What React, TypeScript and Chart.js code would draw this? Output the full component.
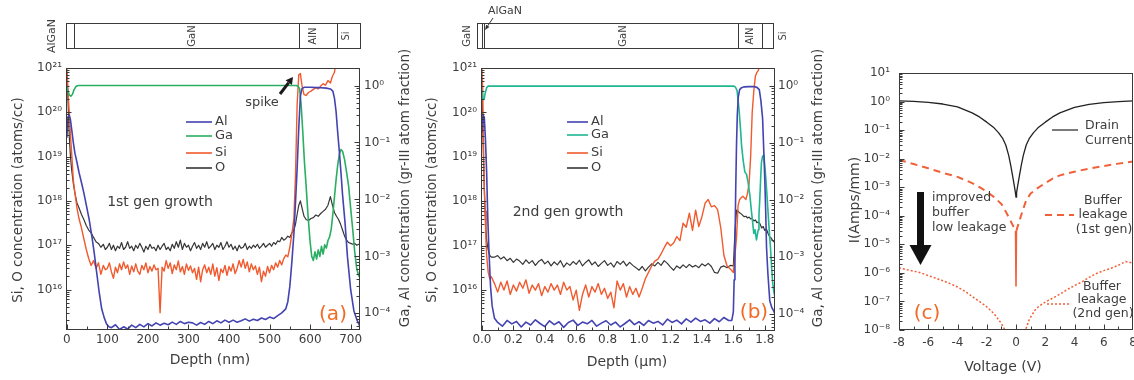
import React, { useEffect, useRef } from 'react';
import { Chart, registerables } from 'chart.js';

Chart.register(...registerables);

const FONT = '"DejaVu Sans", "Noto Sans", sans-serif';
const TXT = '#3d3d3d';
const FRAME = '#3a3a3a';
const C_AL = '#4343b2';
const C_GA_A = '#2aae62';
const C_GA_B = '#20b690';
const C_SI = '#f15a2e';
const C_O = '#363636';
const C_LABEL = '#f26a25';
const C_LEAK = '#f2603a';

// ---------------- Panel (a): 1st gen growth, depth (nm)
const aDepth = [
  0, 2, 4, 6, 9, 12, 16, 20, 25, 30, 36, 42, 48, 54, 60, 66, 72, 78, 84, 90, 95,
  100, 105, 110, 115, 120, 125, 130, 135, 140, 145,
  150, 155, 160, 165, 170, 175, 180, 185, 190, 195,
  200, 205, 210, 215, 220, 225, 230, 235, 240, 245,
  250, 255, 260, 265, 270, 275, 280, 285, 290, 295,
  300, 305, 310, 315, 320, 325, 330, 335, 340, 345,
  350, 355, 360, 365, 370, 375, 380, 385, 390, 395,
  400, 405, 410, 415, 420, 425, 430, 435, 440, 445,
  450, 455, 460, 465, 470, 475, 480, 485, 490, 495,
  500, 505, 510, 515, 520, 525, 530, 535,
  540, 545, 550, 555, 560, 564, 568, 572, 576, 580,
  585, 590, 596, 602, 608, 614, 620, 626, 632, 638,
  644, 650, 655, 660, 665, 670, 675, 680, 685, 690,
  695, 700, 705, 710, 715, 720, 725,
];
const aO = [
  8e20, 3e20, 1e20, 3e19, 1e19, 5e18, 2.5e18, 1.5e18, 9e17, 7e17, 5e17, 3.8e17, 2.8e17, 2.2e17, 1.9e17, 1.5e17, 1.2e17, 1.1e17, 9e16, 1.05e17, 8e16,
  9e16, 1.1e17, 8e16, 1e17, 7.5e16, 9.5e16, 8.5e16, 1.15e17, 8e16, 9e16,
  1.2e17, 8.5e16, 9.5e16, 7.5e16, 1e17, 8.5e16, 1.1e17, 9e16, 7e16, 9.5e16,
  8e16, 1.05e17, 8.5e16, 9e16, 7.5e16, 1e17, 8e16, 9.5e16, 1.1e17, 8e16,
  9e16, 7.5e16, 1.05e17, 8.5e16, 1.2e17, 9e16, 1.3e17, 8e16, 1.1e17, 9e16,
  1e17, 7.5e16, 9.5e16, 1.15e17, 8.5e16, 1e17, 8e16, 1.1e17, 9e16, 1.2e17,
  8.5e16, 9.5e16, 1.1e17, 8e16, 1e17, 9e16, 1.15e17, 8e16, 9.5e16, 1.2e17,
  9e16, 1.05e17, 8e16, 9.5e16, 7.5e16, 1e17, 8.5e16, 9e16, 1.1e17, 8e16,
  9.5e16, 8.5e16, 1e17, 9e16, 1.05e17, 8.5e16, 9.5e16, 1.1e17, 9e16, 1e17,
  1.1e17, 9.5e16, 1.15e17, 1.05e17, 1.25e17, 1.2e17, 1.5e17, 1.3e17,
  1.4e17, 1.6e17, 1.5e17, 1.9e17, 2.2e17, 3e17, 5e17, 8e17, 1e18, 7e17,
  4.5e17, 3.8e17, 3.6e17, 4e17, 4.2e17, 4.8e17, 4.5e17, 5.2e17, 5.8e17, 6.5e17,
  8e17, 1.25e18, 8e17, 5.5e17, 4.5e17, 3.8e17, 3e17, 2.2e17, 1.6e17, 1.3e17,
  1.15e17, 1.1e17, 1.05e17, 1.1e17, 1e17, 1.05e17, 1e17,
];
const aSi = [
  1e21, 5e20, 2e20, 1e20, 3e19, 1.2e19, 3e18, 1.5e18, 7e17, 4e17, 2.5e17, 1.4e17, 8e16, 5e16, 3.5e16, 4.5e16, 3e16, 4e16, 2.2e16, 3.5e16, 2.8e16,
  3e16, 4e16, 2.5e16, 1.8e16, 3.2e16, 2.4e16, 3.8e16, 2.8e16, 4.2e16, 3e16,
  3.6e16, 2.2e16, 3.4e16, 2.5e16, 3.8e16, 2.6e16, 2.2e16, 3.5e16, 2.8e16, 4e16,
  2.4e16, 3.3e16, 2.6e16, 3.6e16, 2.8e16, 3e16, 3e15, 3.2e16, 2.6e16, 4.5e16,
  3e16, 4e16, 2.3e16, 3.6e16, 2.8e16, 4.4e16, 2.5e16, 3.3e16, 2.2e16, 3.8e16,
  2.7e16, 3.4e16, 2.4e16, 3e16, 1.7e16, 3.2e16, 1.5e16, 2.8e16, 3.6e16, 2.4e16,
  3.2e16, 2.2e16, 3.8e16, 2e16, 3.1e16, 1.6e16, 2.9e16, 2.4e16, 3.5e16, 2.1e16,
  3.3e16, 2.6e16, 3.8e16, 2.3e16, 3e16, 4.5e16, 3.2e16, 4.8e16, 3e16, 4.2e16,
  2.5e16, 3.8e16, 2.8e16, 3.4e16, 2.2e16, 3.2e16, 1.5e16, 2.6e16, 2e16, 3.3e16,
  2.4e16, 3.5e16, 2.8e16, 4e16, 3.2e16, 4.5e16, 3.6e16, 5e16,
  6e16, 5.5e16, 9e16, 1.8e17, 4e17, 4e18, 1.5e20, 7e20, 7.5e20, 4e20,
  2.5e20, 2.4e20, 2.8e20, 3e20, 3.3e20, 3.6e20, 3.4e20, 3.9e20, 4.4e20, 4.1e20,
  5.2e20, 4.6e20, 6.5e20, 8e20, 1.6e21, 3e21, 3e21, 3e21, 3e21, 3e21,
  3e21, 3e21, 3e21, 3e21, 3e21, 3e21, 3e21,
];
const aAlDepth = [
  0, 3, 6, 9, 12, 16, 20, 25, 30, 36, 42, 48, 55, 62, 68, 74, 80, 86, 92, 98, 104,
  110, 120, 130, 140, 150, 160, 170, 180, 190, 200,
  210, 220, 230, 240, 250, 260, 270, 280, 290, 300,
  310, 320, 330, 340, 350, 360, 370, 380, 390, 400,
  410, 420, 430, 440, 450, 460, 470, 480, 490, 500,
  510, 520, 530,
  540, 545, 550, 555, 560, 564, 568, 572, 576, 580,
  585, 600, 620, 640, 650, 656, 660, 664, 668, 672,
  676, 680, 686, 692, 700, 708, 716, 725,
];
const aAl = [
  0.12, 0.28, 0.3, 0.25, 0.17, 0.1, 0.065, 0.045, 0.03, 0.02, 0.013, 8e-3, 4.5e-3, 2.2e-3, 1.1e-3, 5e-4, 2.3e-4, 1.2e-4, 8.5e-5, 6.5e-5, 5.8e-5,
  5.6e-5, 6.3e-5, 5.2e-5, 5.8e-5, 5.3e-5, 6.2e-5, 5.6e-5, 6.4e-5, 5.8e-5, 6.6e-5,
  6e-5, 6.8e-5, 6.2e-5, 6.7e-5, 6.3e-5, 7e-5, 6.4e-5, 7.2e-5, 6.6e-5, 7e-5,
  6.8e-5, 6.2e-5, 6.9e-5, 6.4e-5, 7.2e-5, 6.6e-5, 7.4e-5, 6.8e-5, 7.6e-5, 7e-5,
  7.6e-5, 7e-5, 7.4e-5, 8e-5, 7.3e-5, 7.9e-5, 7.5e-5, 8.3e-5, 7.8e-5, 8.6e-5,
  8.1e-5, 9.1e-5, 1.02e-4,
  1.2e-4, 1.6e-4, 3e-4, 8e-4, 2.5e-3, 9e-3, 0.035, 0.18, 0.65, 0.88,
  0.93, 0.93, 0.92, 0.9, 0.87, 0.8, 0.6, 0.35, 0.15, 0.07,
  0.03, 0.012, 4e-3, 1e-3, 2.6e-4, 1.1e-4, 7.5e-5, 5.5e-5,
];
const aGaDepth = [
  0, 3, 6, 10, 14, 18, 22, 26, 30, 40,
  560, 566, 570, 574, 578, 582, 586, 590, 595, 600,
  604, 608, 612, 616, 620, 624, 628, 632, 636, 640,
  644, 648, 652, 656, 660, 664, 668, 672, 676, 680,
  685, 690, 695, 700, 705, 710, 715, 720, 725,
];
const aGa = [
  0.95, 0.8, 0.68, 0.65, 0.7, 0.85, 0.95, 0.99, 1.0, 1.0,
  1.0, 1.0, 0.97, 0.88, 0.45, 0.15, 0.045, 0.018, 5e-3, 1.8e-3,
  1e-3, 8.5e-4, 1.2e-3, 9e-4, 1.3e-3, 1e-3, 1.5e-3, 1.1e-3, 1.6e-3, 1.4e-3,
  1.9e-3, 2.2e-3, 3e-3, 5.5e-3, 0.011, 0.022, 0.04, 0.062, 0.075, 0.07,
  0.05, 0.03, 0.017, 7e-3, 3e-3, 1.2e-3, 6e-4, 4.5e-4, 6e-4,
];
const aXTicks = [0, 100, 200, 300, 400, 500, 600, 700];
const aLayers = [17, 572, 666];

// ---------------- Panel (b): 2nd gen growth, depth (um)
const bDepth = [
  0, 0.005, 0.01, 0.015, 0.02, 0.025, 0.03, 0.04, 0.05, 0.06,
  0.08, 0.10, 0.12, 0.14, 0.16, 0.18, 0.20, 0.22, 0.24, 0.26,
  0.28, 0.30, 0.32, 0.34, 0.36, 0.38, 0.40, 0.42, 0.44, 0.46,
  0.48, 0.50, 0.52, 0.54, 0.56, 0.58, 0.60, 0.62, 0.64, 0.66,
  0.68, 0.70, 0.72, 0.74, 0.76, 0.78, 0.80, 0.82, 0.84, 0.86,
  0.88, 0.90, 0.92, 0.94, 0.96, 0.98, 1.00, 1.02, 1.04, 1.06,
  1.08, 1.10, 1.12, 1.14, 1.16, 1.18, 1.20, 1.22, 1.24, 1.26,
  1.28, 1.30, 1.32, 1.34, 1.36, 1.38, 1.40, 1.42, 1.44, 1.46,
  1.48, 1.50, 1.52, 1.54, 1.56, 1.58,
  1.60, 1.61, 1.62, 1.63, 1.64, 1.65, 1.66, 1.67, 1.68, 1.69,
  1.70, 1.71, 1.72, 1.73, 1.74, 1.75, 1.76, 1.77, 1.78, 1.79,
  1.80, 1.81, 1.82, 1.83, 1.84, 1.85, 1.86,
];
const bO = [
  6e20, 5e19, 8e18, 2e18, 6e17, 2.5e17, 1.3e17, 8e16, 6e16, 5.5e16,
  5.5e16, 6e16, 5e16, 5.6e16, 4.6e16, 5.2e16, 4.2e16, 5e16, 4.5e16, 3.8e16,
  4.8e16, 4e16, 4.6e16, 3.6e16, 4.4e16, 4.9e16, 3.9e16, 4.5e16, 3.5e16, 4.3e16,
  3.7e16, 4.6e16, 3.3e16, 4.1e16, 3.6e16, 4.4e16, 3.8e16, 4.7e16, 3.5e16, 4.2e16,
  4.8e16, 3.7e16, 4.3e16, 3.4e16, 4e16, 4.6e16, 3.6e16, 4.1e16, 3.3e16, 4.4e16,
  3.8e16, 4.5e16, 3.5e16, 4.2e16, 3.6e16, 3.2e16, 2.8e16, 3.4e16, 2.7e16, 3.3e16,
  3.9e16, 3.5e16, 4.2e16, 3.6e16, 4.6e16, 4e16, 3.3e16, 2.8e16, 3.5e16, 3.1e16,
  3.7e16, 3.2e16, 3.8e16, 3.3e16, 3.6e16, 3.2e16, 3.9e16, 3.5e16, 4e16, 3.4e16,
  2.5e16, 2.4e16, 3.3e16, 3.5e16, 3.2e16, 3.6e16,
  3.5e16, 2e17, 6.3e17, 6e17, 5.5e17, 5.2e17, 4.8e17, 4.5e17, 4.6e17, 4.2e17,
  4.4e17, 4e17, 4.1e17, 3.6e17, 3.8e17, 3.3e17, 3.4e17, 3.1e17, 2.5e17, 2.7e17,
  2.2e17, 2.4e17, 1.9e17, 1.6e17, 1.5e17, 1.3e17, 1.2e17,
];
const bSi = [
  1e21, 3e20, 2e19, 2e18, 6e17, 1.5e17, 6e16, 2.5e16, 1.8e16, 2e16,
  1.4e16, 9e15, 1.5e16, 1e16, 1.6e16, 8e15, 1.3e16, 9.5e15, 1.5e16, 1.1e16,
  1.7e16, 8.5e15, 1.3e16, 1e16, 1.4e16, 7.5e15, 1.2e16, 9e15, 1.4e16, 1e16,
  1.3e16, 8e15, 1.5e16, 1e16, 1.2e16, 6e15, 1e16, 3.5e15, 8e15, 1.3e16,
  7e15, 1.2e16, 9e15, 1.4e16, 8e15, 1.1e16, 6.5e15, 9e15, 4e15, 1.6e16,
  1e16, 1.4e16, 7e15, 1.2e16, 8e15, 1.1e16, 7e15, 1.1e16, 1.8e16, 2.5e16,
  3.5e16, 4.5e16, 5e16, 6.5e16, 9e16, 1.2e17, 1e17, 1.15e17, 1.6e17, 1.3e17,
  3.2e17, 2.6e17, 5.4e17, 2.2e17, 6.3e17, 2.7e17, 4.5e17, 9e17, 1.1e18, 7.5e17,
  8e17, 6.5e17, 2.5e17, 6e16, 3.5e16, 3e16,
  2.5e16, 6e16, 1.5e17, 8e17, 1.1e18, 1.2e18, 1.3e18, 1.2e18, 1.1e18, 1.5e18,
  2.5e18, 1e19, 1e20, 3e20, 6.5e20, 8e20, 9e20, 1.5e21, 3e21, 3e21,
  3e21, 3e21, 3e21, 3e21, 3e21, 3e21, 3e21,
];
const bAlDepth = [
  0, 0.008, 0.015, 0.022, 0.03, 0.037, 0.045, 0.055, 0.065, 0.08,
  0.10, 0.13, 0.16, 0.19, 0.22, 0.25, 0.28, 0.31, 0.34, 0.37,
  0.40, 0.43, 0.46, 0.49, 0.52, 0.55, 0.58, 0.61, 0.64, 0.67,
  0.70, 0.73, 0.76, 0.79, 0.82, 0.85, 0.88, 0.91, 0.94, 0.97,
  1.00, 1.03, 1.06, 1.09, 1.12, 1.15, 1.18, 1.21, 1.24, 1.27,
  1.30, 1.33, 1.36, 1.39, 1.42, 1.45, 1.48, 1.51, 1.54, 1.57,
  1.59, 1.60, 1.605, 1.61, 1.615, 1.62, 1.625, 1.631, 1.64, 1.652,
  1.67, 1.70, 1.73, 1.75, 1.765, 1.775, 1.786, 1.793, 1.80, 1.806,
  1.811, 1.82, 1.832, 1.845, 1.853, 1.865,
];
const bAl = [
  0.15, 0.3, 0.28, 0.12, 0.03, 5e-3, 1.2e-3, 3e-4, 1.4e-4, 8.5e-5,
  7.2e-5, 6.2e-5, 7.8e-5, 6.8e-5, 7.5e-5, 6e-5, 7.3e-5, 6.5e-5, 8e-5, 6.9e-5,
  6.1e-5, 7.7e-5, 6.6e-5, 7.4e-5, 5.9e-5, 7.2e-5, 7.9e-5, 6.4e-5, 7.3e-5, 6.8e-5,
  7.8e-5, 6.2e-5, 7e-5, 7.7e-5, 6.5e-5, 7.3e-5, 6e-5, 6.9e-5, 8e-5, 6.6e-5,
  7.4e-5, 6.4e-5, 7.8e-5, 7e-5, 7.5e-5, 6.5e-5, 8.2e-5, 7.2e-5, 7.9e-5, 6.8e-5,
  8.3e-5, 7.3e-5, 8.6e-5, 7.5e-5, 8e-5, 7e-5, 8.4e-5, 7.4e-5, 8.8e-5, 7.8e-5,
  7.8e-5, 1.1e-4, 4e-4, 1.5e-3, 0.015, 0.09, 0.3, 0.62, 0.85, 0.92,
  0.95, 0.96, 0.96, 0.93, 0.85, 0.55, 0.27, 0.08, 0.023, 6e-3,
  1.5e-3, 5e-4, 1.7e-4, 1.3e-4, 1.2e-4, 1e-4,
];
const bGaDepth = [
  0, 0.005, 0.01, 0.015, 0.02, 0.03, 0.04, 0.05, 1.0, 1.6,
  1.609, 1.617, 1.624, 1.63, 1.637, 1.645, 1.652, 1.662, 1.673, 1.684,
  1.694, 1.705, 1.716, 1.723, 1.73, 1.738, 1.747, 1.752, 1.758, 1.763,
  1.768, 1.774, 1.779, 1.786, 1.794, 1.8, 1.807, 1.814, 1.821, 1.828,
  1.836, 1.843, 1.849, 1.857, 1.865,
];
const bGa = [
  0.85, 0.6, 0.57, 0.6, 0.72, 0.92, 0.98, 0.98, 0.98, 0.98,
  0.96, 0.9, 0.81, 0.55, 0.36, 0.18, 0.092, 0.05, 0.031, 0.028,
  0.02, 0.012, 6e-3, 4e-3, 2.6e-3, 3e-3, 2e-3, 2.4e-3, 3e-3, 5.5e-3,
  0.01, 0.025, 0.046, 0.058, 0.061, 0.04, 0.023, 0.012, 6e-3, 3e-3,
  1.5e-3, 7e-4, 3.9e-4, 2.5e-4, 2e-4,
];
const bXTicks = [0, 0.2, 0.4, 0.6, 0.8, 1.0, 1.2, 1.4, 1.6, 1.8];
const bLayers = [0.0, 0.015, 1.632, 1.78];

// ---------------- Panel (c): I-V, voltage (V)
const cVd = [-8, -7, -6, -5, -4, -3, -2.5, -2, -1.5, -1.2, -0.9, -0.7, -0.5, -0.35, -0.2, -0.1, -0.04, 0,
  0.04, 0.1, 0.2, 0.35, 0.5, 0.7, 0.9, 1.2, 1.5, 2, 2.5, 3, 4, 5, 6, 7, 8];
const cDrain = [1.05, 1.02, 0.94, 0.82, 0.65, 0.4, 0.29, 0.19, 0.12, 0.082, 0.05, 0.03, 0.013, 5.5e-3, 2e-3, 1e-3, 6.5e-4, 4.5e-4,
  6.5e-4, 1e-3, 2e-3, 5.5e-3, 0.013, 0.03, 0.05, 0.082, 0.12, 0.19, 0.29, 0.4, 0.63, 0.8, 0.92, 1.0, 1.05];
const cV1 = [-8, -7, -6, -5, -4, -3, -2.5, -2, -1.5, -1, -0.7, -0.45, -0.25, -0.1, -0.03, 0,
  0.03, 0.1, 0.25, 0.45, 0.7, 1, 1.5, 2, 2.5, 3, 4, 5, 6, 7, 8];
const cBuf1 = [9e-3, 6.5e-3, 4.6e-3, 3.2e-3, 2.3e-3, 1.4e-3, 1e-3, 7e-4, 4.5e-4, 2.6e-4, 1.4e-4, 8e-5, 5e-5, 3.5e-5, 3e-5, 3.5e-7,
  3e-5, 4e-5, 7e-5, 1.5e-4, 3.5e-4, 6e-4, 9.5e-4, 1.4e-3, 2e-3, 2.6e-3, 3.5e-3, 4.5e-3, 5.5e-3, 6.7e-3, 8e-3];
const cV2 = [-8, -7.5, -7, -6.5, -6, -5.5, -5, -4.5, -4, -3.5, -3, -2.5, -2, -1.5, -1, -0.6,
  0.5, 0.9, 1.3, 1.6, 2, 2.5, 3, 3.5, 4, 4.5, 5, 5.5, 6, 6.5, 7, 7.5, 8];
const cBuf2 = [1.5e-6, 1.3e-6, 1.15e-6, 1e-6, 8e-7, 6.6e-7, 5.3e-7, 4.2e-7, 3.2e-7, 2.3e-7, 1.5e-7, 1e-7, 6.5e-8, 3.7e-8, 1.7e-8, 7e-9,
  6e-9, 2.3e-8, 5e-8, 7e-8, 9.5e-8, 1.3e-7, 1.8e-7, 2.6e-7, 3.6e-7, 4.8e-7, 7e-7, 9.5e-7, 1.2e-6, 1.45e-6, 1.85e-6, 2.5e-6, 2.2e-6];
const cXTicks = [-8, -6, -4, -2, 0, 2, 4, 6, 8];

// ---------------- helpers
const SUP: Record<string, string> = { '0': '⁰', '1': '¹', '2': '²', '3': '³', '4': '⁴', '5': '⁵', '6': '⁶', '7': '⁷', '8': '⁸', '9': '⁹', '-': '⁻' };
function pow10Label(v: number): string {
  const e = Math.round(Math.log10(v));
  if (Math.abs(v / Math.pow(10, e) - 1) > 1e-6) return '';
  return '10' + String(e).split('').map((c) => SUP[c]).join('');
}
function logTickValues(min: number, max: number): number[] {
  const out: number[] = [];
  for (let e = Math.floor(Math.log10(min)); e <= Math.ceil(Math.log10(max)); e++) {
    for (let m = 1; m <= 9; m++) {
      const v = m * Math.pow(10, e);
      if (v >= min * 0.999 && v <= max * 1.001) out.push(v);
    }
  }
  return out;
}
function pts(xs: number[], ys: number[]) {
  return xs.map((x, i) => ({ x, y: ys[i] }));
}

function yLog(min: number, max: number, position: string, width: number, pad: number) {
  return {
    type: 'logarithmic', position, min, max, bounds: 'data',
    afterFit: (s: any) => { s.width = width; s.paddingTop = 0; s.paddingBottom = 0; },
    afterBuildTicks: (s: any) => { s.ticks = logTickValues(min, max).map((v) => ({ value: v })); },
    grid: { display: false, drawTicks: false },
    border: { display: false },
    ticks: {
      autoSkip: false, maxRotation: 0, minRotation: 0, padding: pad,
      font: { family: FONT, size: 12 }, color: TXT,
      callback: (v: any) => pow10Label(Number(v)),
    },
  };
}
function xLin(min: number, max: number, tickVals: number[], height: number, pad: number, fmt: (v: number) => string) {
  return {
    type: 'linear', position: 'bottom', min, max, bounds: 'data',
    afterFit: (s: any) => { s.height = height; s.paddingLeft = 0; s.paddingRight = 0; },
    afterBuildTicks: (s: any) => { s.ticks = tickVals.map((v) => ({ value: v })); },
    grid: { display: false, drawTicks: false },
    border: { display: false },
    ticks: {
      autoSkip: false, maxRotation: 0, minRotation: 0, padding: pad,
      font: { family: FONT, size: 12 }, color: TXT,
      callback: (v: any) => fmt(Number(v)),
    },
  };
}
function baseOpts(padTop: number, padRight: number) {
  return {
    responsive: false, maintainAspectRatio: false, animation: false, events: [],
    layout: { padding: { top: padTop, right: padRight, left: 0, bottom: 0 } },
    plugins: { legend: { display: false }, tooltip: { enabled: false } },
    elements: { point: { radius: 0 }, line: { tension: 0, fill: false, borderJoinStyle: 'round' } },
  };
}

function txt(ctx: CanvasRenderingContext2D, s: string, x: number, y: number, size: number,
  align: CanvasTextAlign = 'left', color = TXT, rot = 0) {
  ctx.save();
  ctx.font = `${size}px ${FONT}`;
  ctx.fillStyle = color;
  ctx.textAlign = align;
  ctx.textBaseline = 'middle';
  ctx.translate(x, y);
  if (rot) ctx.rotate(rot);
  ctx.fillText(s, 0, 0);
  ctx.restore();
}
const ROT = -Math.PI / 2;
function seg(ctx: CanvasRenderingContext2D, x1: number, y1: number, x2: number, y2: number) {
  ctx.beginPath(); ctx.moveTo(x1, y1); ctx.lineTo(x2, y2); ctx.stroke();
}
function arrow(ctx: CanvasRenderingContext2D, x1: number, y1: number, x2: number, y2: number, lw: number, hl: number, hw: number, color = '#1a1a1a') {
  const ang = Math.atan2(y2 - y1, x2 - x1);
  const bx = x2 - hl * Math.cos(ang), by = y2 - hl * Math.sin(ang);
  ctx.save();
  ctx.strokeStyle = color; ctx.fillStyle = color; ctx.lineWidth = lw; ctx.lineCap = 'butt';
  seg(ctx, x1, y1, bx, by);
  ctx.beginPath();
  ctx.moveTo(x2, y2);
  ctx.lineTo(bx + (hw / 2) * Math.sin(ang), by - (hw / 2) * Math.cos(ang));
  ctx.lineTo(bx - (hw / 2) * Math.sin(ang), by + (hw / 2) * Math.cos(ang));
  ctx.closePath(); ctx.fill();
  ctx.restore();
}

function drawFrame(chart: any, yIds: string[], xTickVals: number[]) {
  const ctx: CanvasRenderingContext2D = chart.ctx;
  const a = chart.chartArea;
  ctx.save();
  ctx.strokeStyle = FRAME; ctx.lineWidth = 1;
  const L = Math.round(a.left) + 0.5, R = Math.round(a.right) - 0.5, T = Math.round(a.top) + 0.5, B = Math.round(a.bottom) - 0.5;
  ctx.strokeRect(L, T, R - L, B - T);
  yIds.forEach((id) => {
    const s = chart.scales[id];
    const left = s.options.position === 'left';
    s.ticks.forEach((t: any) => {
      const y = Math.round(s.getPixelForValue(t.value)) + 0.5;
      if (y < a.top - 1 || y > a.bottom + 1) return;
      const len = pow10Label(t.value) ? 5 : 3;
      if (left) seg(ctx, L, y, L + len, y); else seg(ctx, R, y, R - len, y);
    });
  });
  const xs = chart.scales.x;
  const all: [number, number][] = [];
  xTickVals.forEach((v, i) => {
    all.push([v, 5]);
    if (i < xTickVals.length - 1) all.push([(v + xTickVals[i + 1]) / 2, 3]);
  });
  all.forEach(([v, len]) => {
    const x = Math.round(xs.getPixelForValue(v)) + 0.5;
    if (x < a.left || x > a.right) return;
    seg(ctx, x, B, x, B - len);
  });
  ctx.restore();
}

function legend(ctx: CanvasRenderingContext2D, items: [string, string, number][], x1: number, x2: number) {
  items.forEach(([label, color, y]) => {
    ctx.save();
    ctx.strokeStyle = color; ctx.lineWidth = 1.6;
    seg(ctx, x1, y, x2, y);
    ctx.restore();
    txt(ctx, label, x2 + 3, y, 13);
  });
}

// ---------------- plugins
const decorA = {
  id: 'decorA',
  afterDraw(chart: any) {
    const ctx: CanvasRenderingContext2D = chart.ctx;
    drawFrame(chart, ['y', 'yR'], aXTicks);
    const a = chart.chartArea;
    const xs = chart.scales.x;
    ctx.save();
    ctx.strokeStyle = FRAME; ctx.lineWidth = 1;
    const bl = Math.round(a.left) + 0.5, br = Math.round(a.right) + 0.5;
    ctx.strokeRect(bl, 23.5, br - bl, 25);
    aLayers.forEach((d) => { const p = Math.round(xs.getPixelForValue(d)) + 0.5; seg(ctx, p, 23.5, p, 48.5); });
    ctx.restore();
    txt(ctx, 'AlGaN', 52, 36, 11, 'center', TXT, ROT);
    txt(ctx, 'GaN', 192, 36, 10, 'center', TXT, ROT);
    txt(ctx, 'AlN', 313, 36, 10, 'center', TXT, ROT);
    txt(ctx, 'Si', 346, 36, 10, 'center', TXT, ROT);
    txt(ctx, 'Si, O concentration (atoms/cc)', 18, 200, 13.5, 'center', TXT, ROT);
    txt(ctx, 'Ga, Al concentration (gr-III atom fraction)', 405, 188, 13.5, 'center', TXT, ROT);
    txt(ctx, 'Depth (nm)', 210, 360, 14, 'center');
    legend(ctx, [['Al', C_AL, 122], ['Ga', C_GA_A, 136], ['Si', C_SI, 153], ['O', C_O, 168]], 186, 212);
    txt(ctx, '1st gen growth', 160, 202, 14, 'center');
    txt(ctx, 'spike', 262, 103, 13, 'center');
    arrow(ctx, 280, 94, 293, 77, 3, 7, 8);
    txt(ctx, '(a)', 333, 315, 20, 'center', C_LABEL);
  },
};

const OFF_B = 425;
const decorB = {
  id: 'decorB',
  afterDraw(chart: any) {
    const ctx: CanvasRenderingContext2D = chart.ctx;
    drawFrame(chart, ['y', 'yR'], bXTicks);
    const a = chart.chartArea;
    const xs = chart.scales.x;
    ctx.save();
    ctx.strokeStyle = FRAME; ctx.lineWidth = 1;
    const bl = Math.round(a.left) - 3.5, br = Math.round(a.right) - 1.5;
    ctx.strokeRect(bl, 23.5, br - bl, 25);
    bLayers.forEach((d) => { const p = Math.round(xs.getPixelForValue(d)) + 0.5; seg(ctx, p, 23.5, p, 48.5); });
    ctx.restore();
    ctx.save();
    ctx.translate(-OFF_B, 0);
    txt(ctx, 'AlGaN', 488, 11, 11, 'left');
    arrow(ctx, 493, 18, 485, 30, 1, 5, 4, '#333');
    txt(ctx, 'GaN', 467, 36, 10, 'center', TXT, ROT);
    txt(ctx, 'GaN', 623, 36, 10, 'center', TXT, ROT);
    txt(ctx, 'AlN', 750, 36, 10, 'center', TXT, ROT);
    txt(ctx, 'Si', 783, 36, 10, 'center', TXT, ROT);
    txt(ctx, 'Si, O concentration (atoms/cc)', 432, 200, 13.5, 'center', TXT, ROT);
    txt(ctx, 'Ga, Al concentration (gr-III atom fraction)', 818, 188, 13.5, 'center', TXT, ROT);
    txt(ctx, 'Depth (\u00b5m)', 627, 362, 14, 'center');
    legend(ctx, [['Al', C_AL, 122], ['Ga', C_GA_B, 135], ['Si', C_SI, 153], ['O', C_O, 168]], 567, 588);
    txt(ctx, '2nd gen growth', 568, 212, 14, 'center');
    txt(ctx, '(b)', 754, 313, 20, 'center', C_LABEL);
    ctx.restore();
  },
};

const OFF_C = 835;
const decorC = {
  id: 'decorC',
  afterDraw(chart: any) {
    const ctx: CanvasRenderingContext2D = chart.ctx;
    drawFrame(chart, ['y'], cXTicks);
    ctx.save();
    ctx.translate(-OFF_C, 0);
    txt(ctx, 'I(Amps/mm)', 855, 200, 14, 'center', TXT, ROT);
    txt(ctx, 'Voltage (V)', 1003, 367, 14, 'center');
    ctx.save();
    ctx.strokeStyle = '#222'; ctx.lineWidth = 1.2;
    seg(ctx, 1052, 130, 1078, 130);
    ctx.strokeStyle = C_LEAK; ctx.lineWidth = 2; ctx.setLineDash([7, 5]);
    seg(ctx, 1045, 215, 1074, 215);
    ctx.lineWidth = 1.5; ctx.setLineDash([2, 2]);
    seg(ctx, 1047, 304, 1071, 304);
    ctx.restore();
    txt(ctx, 'Drain', 1085, 126, 12.5, 'left');
    txt(ctx, 'Current', 1085, 141, 12.5, 'left');
    txt(ctx, 'Buffer', 1103, 201, 12.5, 'center');
    txt(ctx, 'leakage', 1103, 215, 12.5, 'center');
    txt(ctx, '(1st gen)', 1104, 230, 12.5, 'center');
    txt(ctx, 'Buffer', 1102, 287, 12.5, 'center');
    txt(ctx, 'leakage', 1102, 300, 12.5, 'center');
    txt(ctx, '(2nd gen)', 1103, 314, 12.5, 'center');
    txt(ctx, 'improved', 932, 198, 12.5, 'left');
    txt(ctx, 'buffer', 932, 213, 12.5, 'left');
    txt(ctx, 'low leakage', 932, 228, 12.5, 'left');
    arrow(ctx, 920.5, 192, 920.5, 265, 7, 20, 22, '#111');
    txt(ctx, '(c)', 927, 314, 20, 'center', C_LABEL);
    ctx.restore();
  },
};

// ---------------- configs
function cfgA(): any {
  return {
    type: 'line',
    data: {
      datasets: [
        { label: 'Al', data: pts(aAlDepth, aAl), yAxisID: 'yR', borderColor: C_AL, borderWidth: 1.6 },
        { label: 'Ga', data: pts(aGaDepth, aGa), yAxisID: 'yR', borderColor: C_GA_A, borderWidth: 1.6 },
        { label: 'Si', data: pts(aDepth, aSi), yAxisID: 'y', borderColor: C_SI, borderWidth: 1.4 },
        { label: 'O', data: pts(aDepth, aO), yAxisID: 'y', borderColor: C_O, borderWidth: 1.2 },
      ],
    },
    options: {
      ...baseOpts(68, 0),
      scales: {
        x: xLin(-2, 723, aXTicks, 50, 3, (v) => String(v)),
        y: yLog(1.22e15, 1e21, 'left', 66, 4),
        yR: yLog(5.1e-5, 2.03, 'right', 65, 4),
      },
    },
    plugins: [decorA],
  };
}
function cfgB(): any {
  return {
    type: 'line',
    data: {
      datasets: [
        { label: 'Al', data: pts(bAlDepth, bAl), yAxisID: 'yR', borderColor: C_AL, borderWidth: 1.6 },
        { label: 'Ga', data: pts(bGaDepth, bGa), yAxisID: 'yR', borderColor: C_GA_B, borderWidth: 1.6 },
        { label: 'Si', data: pts(bDepth, bSi), yAxisID: 'y', borderColor: C_SI, borderWidth: 1.4 },
        { label: 'O', data: pts(bDepth, bO), yAxisID: 'y', borderColor: C_O, borderWidth: 1.2 },
      ],
    },
    options: {
      ...baseOpts(68, 0),
      scales: {
        x: xLin(-0.006, 1.865, bXTicks, 49, 2, (v) => v.toFixed(1)),
        y: yLog(1.2e15, 1e21, 'left', 56, 4),
        yR: yLog(5.1e-5, 2.03, 'right', 60, 3),
      },
    },
    plugins: [decorB],
  };
}
function cfgC(): any {
  const spike = cV1.indexOf(0);
  const isSpike = (c: any) => c.p0DataIndex === spike - 1 || c.p0DataIndex === spike;
  return {
    type: 'line',
    data: {
      datasets: [
        { label: 'Drain Current', data: pts(cVd, cDrain), borderColor: '#222', borderWidth: 1.3 },
        {
          label: 'Buffer leakage (1st gen)', data: pts(cV1, cBuf1), borderColor: C_LEAK, borderWidth: 2, borderDash: [7, 5],
          segment: {
            borderDash: (c: any) => (isSpike(c) ? [] : [7, 5]),
            borderWidth: (c: any) => (isSpike(c) ? 1.6 : 2),
          },
        },
        { label: 'Buffer leakage (2nd gen)', data: pts(cV2, cBuf2), borderColor: C_LEAK, borderWidth: 1.5, borderDash: [2, 2] },
      ],
    },
    options: {
      ...baseOpts(73, 1),
      scales: {
        x: xLin(-8, 8, cXTicks, 50, 6, (v) => String(v)),
        y: yLog(1e-8, 10, 'left', 64, 9),
      },
    },
    plugins: [decorC],
  };
}

export default function App() {
  const ra = useRef<HTMLCanvasElement>(null);
  const rb = useRef<HTMLCanvasElement>(null);
  const rc = useRef<HTMLCanvasElement>(null);
  useEffect(() => {
    const charts = [
      new Chart(ra.current as HTMLCanvasElement, cfgA()),
      new Chart(rb.current as HTMLCanvasElement, cfgB()),
      new Chart(rc.current as HTMLCanvasElement, cfgC()),
    ];
    return () => charts.forEach((c) => c.destroy());
  }, []);
  return (
    <div style={{ position: 'absolute', left: 0, top: 0, width: 1134, height: 380, background: '#fff', overflow: 'hidden' }}>
      <canvas ref={ra} width={425} height={380} style={{ position: 'absolute', left: 0, top: 0, width: 425, height: 380 }} />
      <canvas ref={rb} width={410} height={380} style={{ position: 'absolute', left: 425, top: 0, width: 410, height: 380 }} />
      <canvas ref={rc} width={299} height={380} style={{ position: 'absolute', left: 835, top: 0, width: 299, height: 380 }} />
    </div>
  );
}
